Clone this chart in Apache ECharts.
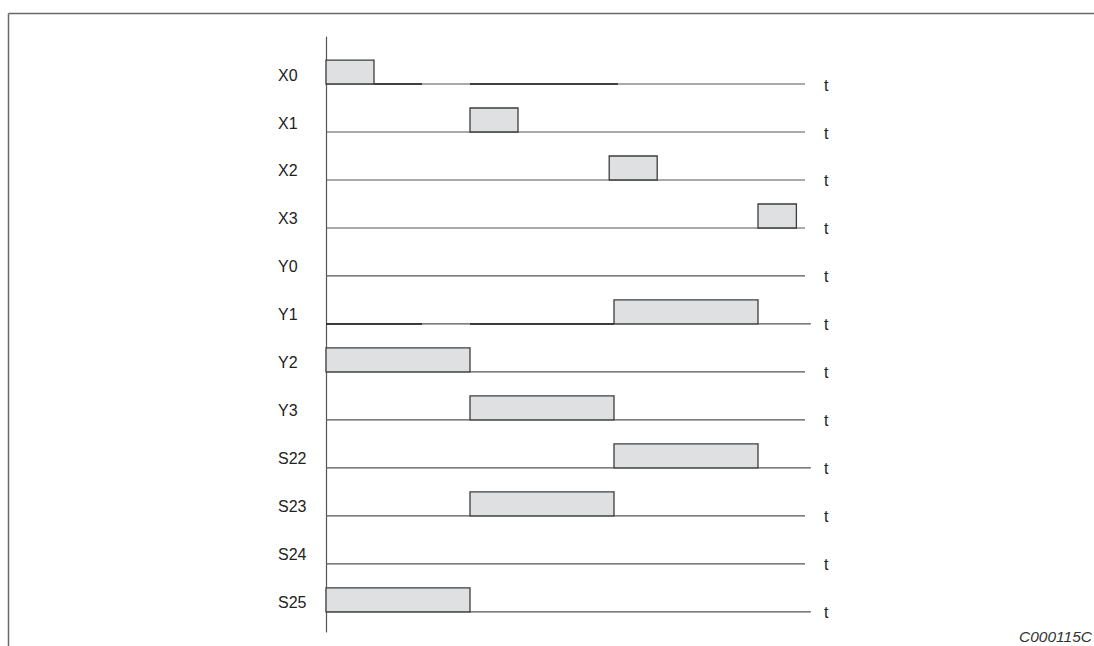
<!DOCTYPE html>
<html>
<head>
<meta charset="utf-8">
<script src="https://cdn.jsdelivr.net/npm/echarts@6/dist/echarts.min.js"></script>
<style>
html,body{margin:0;padding:0;background:#fff;}
#chart{width:1094px;height:646px;}
</style>
</head>
<body>
<div id="chart"></div>
<script>
// Signal names (rows, top to bottom)
const signals = ['X0','X1','X2','X3','Y0','Y1','Y2','Y3','S22','S23','S24','S25'];
// Pulse start / end times (null = no pulse)
const pulseStart = [0, 3, 5.9, 9.0, null, 6, 0, 3, 6, 3, null, 0];
const pulseEnd   = [1, 4, 6.9, 9.8, null, 9, 3, 6, 9, 6, null, 3];
// End time of each row's time line
const lineEnd = [9.98, 9.98, 9.98, 9.98, 9.98, 10.1, 9.98, 9.98, 10.1, 9.98, 9.98, 10.1];
// Darker stretches of the time line: [from, to]
const darkSegs = [[[1, 2], [3, 6.08]], [], [], [], [], [[0, 2], [3, 6]], [], [], [], [], [], []];
const axisLabel = 't';
const figureCode = 'C000115C';

const chart = echarts.init(document.getElementById('chart'), null, {renderer: 'svg'});
const FONT = '"Liberation Sans", Arial, Helvetica, sans-serif';

function renderItem(params, api) {
  const i = api.value(0);
  const children = [];
  const base = api.coord([0, i]);
  const end = api.coord([lineEnd[i], i]);
  children.push({
    type: 'line',
    shape: {x1: base[0], y1: base[1], x2: end[0], y2: base[1]},
    style: {stroke: '#555', lineWidth: 1.2}
  });
  darkSegs[i].forEach(function (s) {
    const a = api.coord([s[0], i]);
    const b = api.coord([s[1], i]);
    children.push({
      type: 'line',
      shape: {x1: a[0], y1: a[1], x2: b[0], y2: b[1]},
      style: {stroke: '#1e1e1e', lineWidth: 1.4}
    });
  });
  if (pulseStart[i] !== null) {
    const p0 = api.coord([pulseStart[i], i - 0.5]);
    const p1 = api.coord([pulseEnd[i], i]);
    children.push({
      type: 'rect',
      shape: {x: p0[0], y: p0[1], width: p1[0] - p0[0], height: p1[1] - p0[1]},
      style: {fill: '#dfe0e2', stroke: '#3c3c3c', lineWidth: 1.3}
    });
  }
  children.push({
    type: 'text',
    style: {
      x: 278, y: base[1] - 9, text: signals[i],
      fill: '#222', font: '16px ' + FONT,
      textAlign: 'left', textVerticalAlign: 'middle'
    }
  });
  children.push({
    type: 'text',
    style: {
      x: 824, y: base[1] + 1, text: axisLabel,
      fill: '#222', font: '16px ' + FONT,
      textAlign: 'left', textVerticalAlign: 'middle'
    }
  });
  return {type: 'group', children: children};
}

const option = {
  backgroundColor: '#fff',
  animation: false,
  grid: {left: 326, top: 37, width: 489.6, height: 595},
  xAxis: {type: 'value', min: 0, max: 10.2, show: false},
  yAxis: {
    type: 'value', min: -0.98, max: 11.42, inverse: true,
    axisLine: {show: true, onZero: false, lineStyle: {color: '#555', width: 1.2}},
    axisTick: {show: false}, axisLabel: {show: false}, splitLine: {show: false}
  },
  graphic: [
    {type: 'line', shape: {x1: 8.5, y1: 13.5, x2: 1094, y2: 13.5}, style: {stroke: '#6a6a6a', lineWidth: 1.5}},
    {type: 'line', shape: {x1: 8.5, y1: 13.5, x2: 8.5, y2: 646}, style: {stroke: '#6a6a6a', lineWidth: 1.5}},
    {type: 'text', right: 2, top: 628, style: {text: figureCode, fill: '#333', font: 'italic 15.5px ' + FONT}}
  ],
  series: [{
    type: 'custom',
    clip: false,
    renderItem: renderItem,
    data: signals.map(function (s, i) { return [i]; })
  }]
};
chart.setOption(option);
</script>
</body>
</html>
